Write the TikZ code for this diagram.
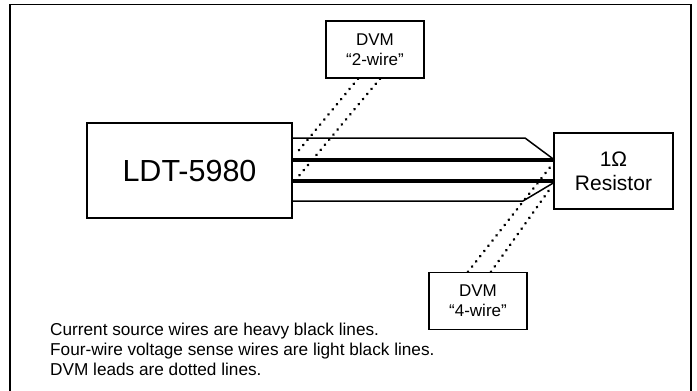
\documentclass[tikz,border=0pt]{standalone}
\usepackage{fontspec}
\setmainfont{Liberation Sans}
\tikzset{
    box/.style={draw,line width=1.5pt,inner sep=0pt,align=center},
    dvmbox/.style={box,minimum width=98pt,minimum height=57pt,font=\fontsize{17}{20}\selectfont},
    lightwire/.style={line width=1.5pt},
    heavywire/.style={line width=4pt},
    dvmlead/.style={line width=3pt,line cap=round,dash pattern=on 0.01pt off 6.6pt},
}
\begin{document}
\begin{tikzpicture}[x=1pt,y=-1pt]
    \useasboundingbox (0,0) rectangle (697,391);
    \clip (0,0) rectangle (697,391);
    \draw[line width=1.6pt] (10,395) -- (10,4.5) -- (691,4.5) -- (691,395);
    \node[box,minimum width=205pt,minimum height=95pt,font=\fontsize{30.5}{34}\selectfont] (ldt) at (189.5,170.5) {LDT-5980};
    \node[box,minimum width=119pt,minimum height=76pt,font=\fontsize{21}{24}\selectfont] (res) at (613.5,171) {1Ω\\Resistor};
    \node[dvmbox] (dvmtwo) at (375,49.5) {DVM\\“2-wire”};
    \node[dvmbox] (dvmfour) at (478,301) {DVM\\“4-wire”};
    % wires
    \draw[heavywire] (ldt.east |- 0,160) -- (res.west |- 0,160);
    \draw[heavywire] (ldt.east |- 0,181) -- (res.west |- 0,181);
    \draw[lightwire] (ldt.east |- 0,138) -- (525,138) -- (res.west |- 0,159);
    \draw[lightwire] (ldt.east |- 0,201) -- (523,201) -- (res.west |- 0,183);
    % leads
    \draw[dvmlead] (dvmtwo.south -| 358,0) -- (295,155);
    \draw[dvmlead] (dvmtwo.south -| 380,0) -- (298,177);
    \draw[dvmlead] (dvmfour.north -| 468,0) -- (551,166);
    \draw[dvmlead] (dvmfour.north -| 491,0) -- (552,186);
    \node[anchor=north west,align=left,inner sep=0pt,font=\fontsize{17.2}{20}\selectfont] (notes) at (50,323) {Current source wires are heavy black lines.\\Four-wire voltage sense wires are light black lines.\\DVM leads are dotted lines.};
\end{tikzpicture}
\end{document}
